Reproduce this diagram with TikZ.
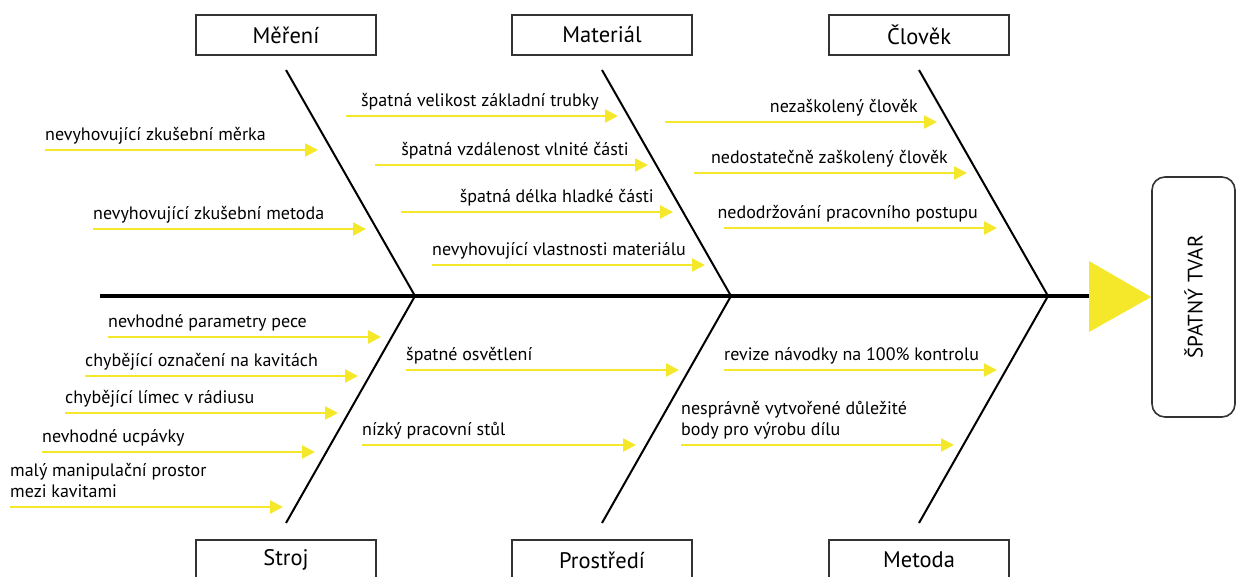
\documentclass[tikz,border=0pt]{standalone}
\usepackage{fontspec}
\setmainfont{PT Sans}
\usetikzlibrary{arrows.meta}
\definecolor{causeyellow}{HTML}{F5E82A}
\tikzset{
  catbox/.style={draw=black!80, line width=1.6pt, minimum width=180pt, minimum height=40pt,
    inner sep=0pt, font=\fontsize{22.5}{26}\selectfont},
  bone/.style={line width=2pt, black},
  spine/.style={line width=4pt, black},
  causearrow/.style={draw=causeyellow, line width=2.5pt, -{Triangle[length=13pt,width=13pt]}},
  causetext/.style={font=\fontsize{18}{21.5}\selectfont, inner sep=0pt, align=left},
  effectbox/.style={draw=black!80, line width=1.6pt, rounded corners=13pt, minimum width=240pt,
    minimum height=83pt, rotate=90, font=\fontsize{21}{25}\selectfont},
}
% cause arrow with the label starting at the tail
\newcommand{\causeL}[5]{%
  \coordinate (#1-s) at (#3,#2);
  \coordinate (#1-e) at (#4,#2);
  \draw[causearrow] (#1-s) -- (#1-e);
  \node[causetext, anchor=base west] (#1-t) at ([yshift=9.5pt]#1-s) {#5};
}
% cause arrow with the label ending just before the head
\newcommand{\causeR}[5]{%
  \coordinate (#1-s) at (#3,#2);
  \coordinate (#1-e) at (#4,#2);
  \draw[causearrow] (#1-s) -- (#1-e);
  \node[causetext, anchor=base east] (#1-t) at ([xshift=-19pt,yshift=9.5pt]#1-e) {#5};
}
\begin{document}
\begin{tikzpicture}[x=1pt,y=-1pt]
\useasboundingbox (0,0) rectangle (1236,577);
\clip (0,0) rectangle (1236,577);

% category boxes
\node[catbox] (mereni)   at (286,35)  {Měření};
\node[catbox] (material) at (602,35)  {Materiál};
\node[catbox] (clovek)   at (919,35)  {Člověk};
\node[catbox] (stroj)    at (286,560) {Stroj};
\node[catbox] (prostredi) at (602,560) {Prostředí};
\node[catbox] (metoda)   at (919,560) {Metoda};

% effect
\node[effectbox] (effect) at (1193.5,297) {ŠPATNÝ TVAR};

% spine and head
\coordinate (tail) at (100,296);
\coordinate (head) at (1092,296);
\coordinate (j1) at (415,296);
\coordinate (j2) at (731,296);
\coordinate (j3) at (1048,296);
\draw[spine] (tail) -- (head);
\coordinate (tri-a) at (1089,261);
\coordinate (tri-b) at (1089,332);
\coordinate (tri-tip) at (effect.north);
\fill[causeyellow] (tri-a) -- (tri-tip) -- (tri-b) -- cycle;

% bones
\coordinate (b1) at (286,70);
\coordinate (b2) at (602,70);
\coordinate (b3) at (919,70);
\coordinate (b4) at (286,523);
\coordinate (b5) at (602,523);
\coordinate (b6) at (919,523);
\draw[bone] (b1) -- (j1);
\draw[bone] (b2) -- (j2);
\draw[bone] (b3) -- (j3);
\draw[bone] (b4) -- (j1);
\draw[bone] (b5) -- (j2);
\draw[bone] (b6) -- (j3);

% Měření
\causeL{m1}{150}{45}{318}{nevyhovující zkušební měrka}
\causeL{m2}{229}{93}{366}{nevyhovující zkušební metoda}

% Materiál
\causeR{a1}{116}{346}{618}{špatná velikost základní trubky}
\causeR{a2}{165}{375}{648}{špatná vzdálenost vlnité části}
\causeR{a3}{212}{401}{673}{špatná délka hladké části}
\causeR{a4}{265}{432}{705}{nevyhovující vlastnosti materiálu}

% Člověk
\causeR{c1}{122}{665}{937}{nezaškolený člověk}
\causeR{c2}{173}{694}{967}{nedostatečně zaškolený člověk}
\causeR{c3}{228}{724}{997}{nedodržování pracovního postupu}

% Stroj
\causeL{s1}{337}{108}{381}{nevhodné parametry pece}
\causeL{s2}{376}{85}{358}{chybějící označení na kavitách}
\causeL{s3}{413}{65}{338}{chybějící límec v rádiusu}
\causeL{s4}{452}{42}{315}{nevhodné ucpávky}
\causeL{s5}{507}{10}{283}{malý manipulační prostor\\mezi kavitami}

% Prostředí
\causeL{p1}{370}{406}{679}{špatné osvětlení}
\causeL{p2}{445}{362}{636}{nízký pracovní stůl}

% Metoda
\causeL{t1}{370}{724}{997}{revize návodky na 100\% kontrolu}
\causeL{t2}{445}{681}{954}{nesprávně vytvořené důležité\\body pro výrobu dílu}
\end{tikzpicture}
\end{document}
